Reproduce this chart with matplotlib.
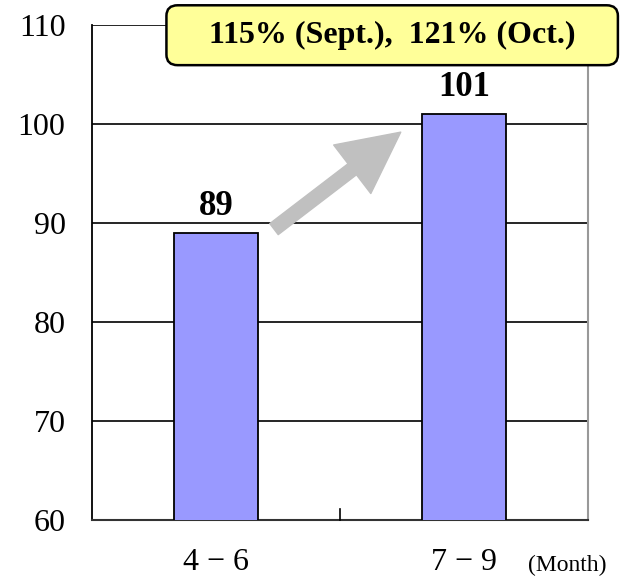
import matplotlib.pyplot as plt
from matplotlib.patches import FancyBboxPatch

periods = ['4 − 6', '7 − 9']
values = [89, 101]
yticks = [60, 70, 80, 90, 100, 110]
note = '115% (Sept.),  121% (Oct.)'

plt.rcParams['font.family'] = ['Liberation Serif', 'DejaVu Serif']

fig = plt.figure(figsize=(6.21, 5.87), dpi=100)
ax = fig.add_axes([0.148, 0.114, 0.799, 0.843])

x = range(len(values))
ax.bar(x, values, width=0.34, color='#9999ff', edgecolor='black', linewidth=1.3, zorder=3)
for i, v in enumerate(values):
    ax.text(i, v + 1.8, str(v), ha='center', va='baseline', fontsize=25, fontweight='bold', zorder=5)

ax.set_xlim(-0.5, 1.5)
ax.set_ylim(60, 110)
ax.set_yticks(yticks)
ax.yaxis.grid(True, color='black', linewidth=1.2, zorder=0)
ax.tick_params(axis='y', length=0, labelsize=23, pad=19)
ax.set_xticks(list(x))
ax.set_xticklabels(periods, fontsize=23)
ax.tick_params(axis='x', length=0, pad=20)
# middle separator tick
ax.plot([0.5, 0.5], [60, 61.1], color='black', linewidth=1.2, clip_on=False, zorder=4)

ax.spines['left'].set_color('black')
ax.spines['left'].set_linewidth(1.3)
ax.spines['bottom'].set_color('#333333')
ax.spines['bottom'].set_linewidth(1.5)
ax.spines['right'].set_color('#999999')
ax.spines['right'].set_linewidth(1.5)
ax.spines['top'].set_visible(False)

ax.text(1.258, 55.4, '(Month)', fontsize=17, ha='left', va='center', clip_on=False)

# grey arrow from first bar toward second
ax.annotate('', xy=(0.745, 99.2), xytext=(0.234, 89.4),
            arrowprops=dict(arrowstyle='simple,head_length=2.2,head_width=2.2,tail_width=0.5',
                            color='#c0c0c0', shrinkA=0, shrinkB=0, mutation_scale=20),
            zorder=4)

# yellow note box
box = FancyBboxPatch((0.268, 0.889), 0.727, 0.102, boxstyle='round,pad=0,rounding_size=0.018',
                     transform=fig.transFigure, facecolor='#ffff99', edgecolor='black',
                     linewidth=1.8, zorder=10)
fig.patches.append(box)
fig.text(0.631, 0.940, note, ha='center', va='center', fontsize=23, fontweight='bold', zorder=11)

fig.savefig('out.png', dpi=100)
